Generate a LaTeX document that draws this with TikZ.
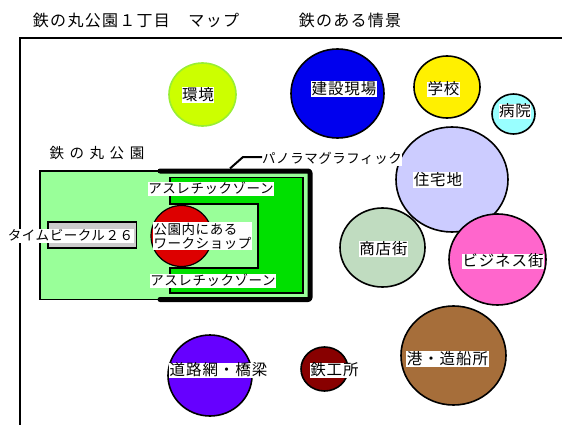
\documentclass[tikz,border=0pt]{standalone}
\usepackage{fontspec}
\usetikzlibrary{shapes.geometric}
\newfontfamily\jp{Noto Sans CJK JP}
\newfontfamily\jptitle[LetterSpace=8]{Noto Sans CJK JP}
\newfontfamily\jppark[LetterSpace=38]{Noto Sans CJK JP}
\newfontfamily\jpcirc[LetterSpace=6]{Noto Sans CJK JP}
\newfontfamily\jpsmall[LetterSpace=4]{Noto Sans CJK JP}
\definecolor{kankyoF}{HTML}{CCFF00}
\definecolor{kankyoD}{HTML}{99EE33}
\definecolor{kensetsu}{HTML}{0000EE}
\definecolor{gakko}{HTML}{FFF000}
\definecolor{byoin}{HTML}{99FFFF}
\definecolor{jutaku}{HTML}{CCCCFF}
\definecolor{shoten}{HTML}{C0DCC0}
\definecolor{business}{HTML}{FF66CC}
\definecolor{minato}{HTML}{A66E3A}
\definecolor{tekko}{HTML}{880000}
\definecolor{doro}{HTML}{6600FF}
\definecolor{parkpale}{HTML}{99FF99}
\definecolor{parkgreen}{HTML}{00E000}
\definecolor{wsred}{HTML}{DD0000}
\definecolor{tpgray}{HTML}{CCCCCC}
\begin{document}
\begin{tikzpicture}[x=1pt,y=-1pt,
  circ/.style={ellipse, draw=black, line width=1.6pt, inner sep=0pt},
  clbl/.style={fill=white, inner sep=0.5pt, text height=12.5pt, text depth=2pt,
    font=\jpcirc\fontsize{15.5}{17}\selectfont},
  plbl/.style={fill=white, inner sep=0.5pt, text height=11pt, text depth=2pt,
    font=\jpsmall\fontsize{13.5}{14}\selectfont},
  ttl/.style={inner sep=0pt, font=\jptitle\fontsize{16}{18}\selectfont},
  thin/.style={draw=black, line width=1.2pt}]
\useasboundingbox (0,0) rectangle (562,425);
% frame
\draw[line width=2pt] (19.5,426) -- (19.5,38.5) -- (563,38.5);
% titles
\node[ttl] (t1) at (136,20.5) {鉄の丸公園１丁目　マップ};
\node[ttl] (t2) at (350,20.5) {鉄のある情景};
% circles
\node[circ, draw=kankyoD, fill=kankyoF, minimum width=67pt, minimum height=63pt] (kankyo) at (202.5,94.5) {};
\node[circ, fill=kensetsu, minimum width=93pt, minimum height=89pt] (kensetsu) at (337.5,93.5) {};
\node[circ, fill=gakko, minimum width=66pt, minimum height=62pt] (gakko) at (447,87) {};
\node[circ, fill=byoin, minimum width=43pt, minimum height=40pt] (byoin) at (513.5,114) {};
\node[circ, fill=jutaku, minimum width=112pt, minimum height=105pt] (jutaku) at (452,179.5) {};
\node[circ, fill=shoten, minimum width=85pt, minimum height=79pt] (shoten) at (382.5,247.5) {};
\node[circ, fill=business, minimum width=97pt, minimum height=91pt] (business) at (497.5,259.5) {};
\node[circ, fill=minato, minimum width=105pt, minimum height=99pt] (minato) at (453.5,355.5) {};
\node[circ, fill=tekko, minimum width=47pt, minimum height=44pt] (tekko) at (324.5,369) {};
\node[circ, fill=doro, minimum width=84pt, minimum height=81pt] (doro) at (210,375.5) {};
% circle labels
\node[clbl] (lkankyo) at (198,95) {環境};
\node[clbl] (lkensetsu) at (344,89) {建設現場};
\node[clbl] (lgakko) at (443.5,89.5) {学校};
\node[clbl] (lbyoin) at (515,111.5) {病院};
\node[clbl] (ljutaku) at (438,180) {住宅地};
\node[clbl] (lshoten) at (383.5,249) {商店街};
\node[clbl] (lbusiness) at (503,261.5) {ビジネス街};
\node[clbl] (lminato) at (447.5,359) {港・造船所};
\node[clbl] (ltekko) at (334.5,370.5) {鉄工所};
\node[clbl] (ldoro) at (218.5,370.5) {道路網・橋梁};
% park
\node[inner sep=0pt, font=\jppark\fontsize{14.5}{16}\selectfont] (parkname) at (97,153.5) {鉄の丸公園};
\path[thin, fill=parkpale] (40,171) rectangle (310,299.5);
\path[thin, fill=parkgreen] (170,177.5) rectangle (303,293);
\fill[parkpale] (169.4,204) rectangle (258,268);
\draw[black, line width=1.2pt] (169.4,204) -- (258,204) -- (258,268) -- (169.4,268);
\node[circle, draw=black, line width=1.2pt, fill=wsred, minimum size=61pt, inner sep=0pt] (ws) at (181.5,236) {};
\path[thin, fill=tpgray] (48,222) rectangle (136.5,248);
\draw[line width=5pt, line cap=round, line join=round, rounded corners=2pt]
  (160,171) -- (310,171) -- (310,299.5) -- (160,299.5);
% park labels
\node[plbl] (ath1) at (211,188.5) {アスレチックゾーン};
\node[plbl] (ath2) at (213,281) {アスレチックゾーン};
\node[fill=white, inner sep=0.5pt, align=left, font=\jpsmall\fontsize{13.5}{14}\selectfont] (lws) at (202.5,236) {公園内にある\\ワークショップ};
\node[plbl] (ltp) at (70.5,235.5) {タイムビークル２６};
\node[plbl, anchor=west, inner sep=0pt] (lpano) at (262,159.5) {パノラマグラフィック};
\coordinate (panotip) at (230,168.5);
\draw[line width=2pt] (panotip) -- (243,157) -- (lpano.west |- 0,157);
\end{tikzpicture}
\end{document}
